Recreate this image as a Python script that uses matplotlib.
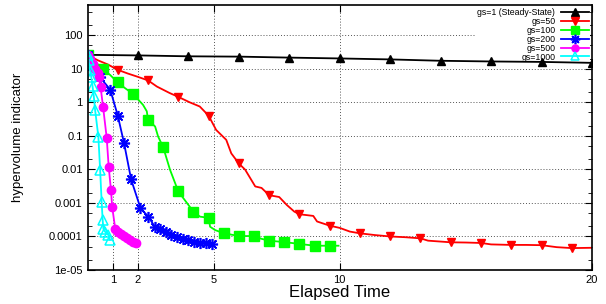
import numpy as np
from matplotlib import pyplot as plt
from matplotlib.ticker import FixedLocator, LogLocator, NullFormatter

# gs=1 (steady state)
gs1_t = [0, 2, 4, 6, 8, 10, 12, 14, 16, 18, 20]
gs1_v = [26, 25, 23.5, 23, 21.5, 20.3, 19, 17.3, 16.5, 16, 15]

# gs=50
gs50_t = [0, 0.4, 0.8, 1.2, 1.6, 1.95, 2.4, 2.75, 3.25, 3.6,
          4.05, 4.45, 4.8, 5.1, 5.5, 5.7, 6.0, 6.25, 6.65, 6.9,
          7.2, 7.6, 7.9, 8.2, 8.4, 8.95, 9.1, 9.6, 10.0, 10.4,
          10.8, 11.4, 12.0, 12.6, 13.2, 13.5, 14.4, 15.0, 15.6, 16.0,
          16.8, 17.4, 18.0, 18.6, 19.2, 20.0]
gs50_v = [26, 18, 13.5, 9.3, 7.2, 5.9, 4.5, 2.95, 1.9, 1.45,
          1.0, 0.75, 0.4, 0.15, 0.076, 0.03, 0.015, 0.0098, 0.0031, 0.0028,
          0.0017, 0.0015, 0.00087, 0.00055, 0.00046, 0.00041, 0.00028, 0.00021, 0.00018, 0.00014,
          0.000124, 0.00011, 0.0001, 9.5e-5, 8.8e-5, 7.5e-5, 6.7e-5, 6.6e-5, 6.4e-5, 5.8e-5,
          5.6e-5, 5.6e-5, 5.5e-5, 4.8e-5, 4.5e-5, 4.6e-5]
gs50_marks = [0, 1.2, 2.4, 3.6, 4.8, 6.0, 7.2, 8.4, 9.6, 10.8, 12.0, 13.2,
              14.4, 15.6, 16.8, 18.0, 19.2]

# gs=100
gs100_t = [0, 0.3, 0.6, 0.9, 1.2, 1.5, 1.8, 2.2, 2.35, 2.4,
           2.68, 2.8, 3.0, 3.27, 3.6, 3.94, 4.2, 4.46, 4.8, 4.86,
           5.06, 5.4, 6.0, 6.6, 6.9, 7.2, 7.8, 8.4, 9.0, 9.6, 9.95]
gs100_v = [26, 16, 10, 6.5, 3.9, 2.6, 1.8, 0.84, 0.54, 0.3,
           0.19, 0.095, 0.046, 0.0098, 0.0022, 0.001, 0.00055, 0.00039, 0.00036, 0.000195,
           0.000155, 0.000125, 0.000103, 0.000103, 8.5e-5, 7.5e-5, 6.8e-5, 6.0e-5, 5.3e-5, 5.3e-5, 5.3e-5]
gs100_marks = [0, 0.6, 1.2, 1.8, 2.4, 3.0, 3.6, 4.2, 4.8, 5.4, 6.0, 6.6,
               7.2, 7.8, 8.4, 9.0, 9.6]

# gs=200
gs200_t = [0, 0.15, 0.5, 0.9, 1.2, 1.45, 1.73, 2.1, 2.41, 2.68,
           2.88, 3.12, 3.31, 3.55, 3.79, 3.99, 4.23, 4.46, 4.7, 4.95]
gs200_v = [26, 12, 5.5, 2.4, 0.4, 0.06, 0.005, 0.0007, 0.00039, 0.00019,
           0.000166, 0.000134, 0.000111, 9.8e-5, 8.6e-5, 8e-5, 6.9e-5, 6.4e-5, 6.4e-5, 6e-5]

# gs=500
gs500_t = [0, 0.1, 0.2, 0.3, 0.4, 0.47, 0.52, 0.62, 0.76, 0.84,
           0.93, 0.98, 1.1, 1.21, 1.33, 1.45, 1.57, 1.69, 1.8, 1.92]
gs500_v = [26, 19, 14, 10, 7.5, 5.6, 2.8, 0.7, 0.089, 0.012,
           0.0024, 0.00074, 0.00017, 0.00014, 0.000115, 0.0001, 8.8e-5, 7.8e-5, 7.0e-5, 6.6e-5]

# gs=1000
gs1000_t = [0, 0.04, 0.1, 0.15, 0.2, 0.25, 0.3, 0.43, 0.5, 0.56,
            0.6, 0.63, 0.69, 0.83, 0.89]
gs1000_v = [26, 18, 9, 5.5, 3, 1.5, 0.6, 0.095, 0.0098, 0.0011,
            0.00031, 0.00017, 0.00014, 0.00011, 8e-5]

labels = ['gs=1 (Steady-State)', 'gs=50', 'gs=100', 'gs=200', 'gs=500', 'gs=1000']
xticks = [1, 2, 5, 10, 20]

plt.rcParams['font.family'] = ['Liberation Sans', 'DejaVu Sans']

fig = plt.figure(figsize=(6.06, 3.04), dpi=100)
ax = fig.add_axes([0.1444, 0.1118, 0.8325, 0.872])

lw = 1.3
ax.plot(gs1_t, gs1_v, color='black', lw=lw, marker='^', ms=6, label=labels[0])
ax.plot(gs50_t, gs50_v, color='red', lw=lw, marker='v', ms=6,
        markevery=list(np.isin(gs50_t, gs50_marks)), label=labels[1])
ax.plot(gs100_t, gs100_v, color='#00ff00', lw=lw, marker='s', ms=6.5,
        markevery=list(np.isin(gs100_t, gs100_marks)), label=labels[2])
ax.plot(gs200_t, gs200_v, color='blue', lw=lw, marker=(8, 2, 0), ms=8, mew=1.2,
        label=labels[3])
ax.plot(gs500_t, gs500_v, color='magenta', lw=lw, marker='o', ms=6, label=labels[4])
ax.plot(gs1000_t, gs1000_v, color='cyan', lw=lw, marker='^', ms=7, mfc='none',
        mew=1.1, label=labels[5])

ax.set_yscale('log')
ax.set_xlim(0, 20)
ax.xaxis.set_major_locator(FixedLocator(xticks))
ax.set_xticklabels([str(x) for x in xticks])
ax.yaxis.set_minor_locator(LogLocator(base=10, subs=(2, 5), numticks=20))
ax.yaxis.set_minor_formatter(NullFormatter())
ax.set_yticks([1e-5, 1e-4, 1e-3, 1e-2, 0.1, 1, 10, 100])
ax.set_yticklabels(['1e-05', '0.0001', '0.001', '0.01', '0.1', '1', '10', '100'])
ax.set_ylim(1e-5, 800)

ax.tick_params(which='both', direction='in', right=True, top=True, labelsize=8)
ax.tick_params(which='major', length=5)
ax.tick_params(which='minor', length=3)
ax.grid(True, which='major', linestyle=(0, (1, 2)), color='#555555', lw=0.7)
ax.set_axisbelow(True)
for s in ax.spines.values():
    s.set_linewidth(1.2)

ax.set_xlabel('Elapsed Time', fontsize=12, labelpad=0)
ax.set_ylabel('hypervolume indicator', fontsize=9.5, labelpad=18)

# legend handles without the markevery masks
handles = []
for line in ax.get_lines():
    h = plt.Line2D([], [], color=line.get_color(), lw=lw, marker=line.get_marker(),
                   ms=line.get_markersize() * 0.85, mfc=line.get_markerfacecolor(),
                   mew=line.get_markeredgewidth())
    handles.append(h)

leg = ax.legend(handles, labels, loc='upper right', markerfirst=False, fontsize=6.3,
                frameon=True, facecolor='white', edgecolor='none', framealpha=1,
                fancybox=False, handlelength=3.2, handletextpad=0.6, labelspacing=-0.02,
                borderaxespad=0.25, borderpad=0.15)
leg.set_zorder(1.5)
for t in leg.get_texts():
    t.set_ha('right')
leg._legend_box.align = 'right'

fig.savefig('out.png', dpi=100)
